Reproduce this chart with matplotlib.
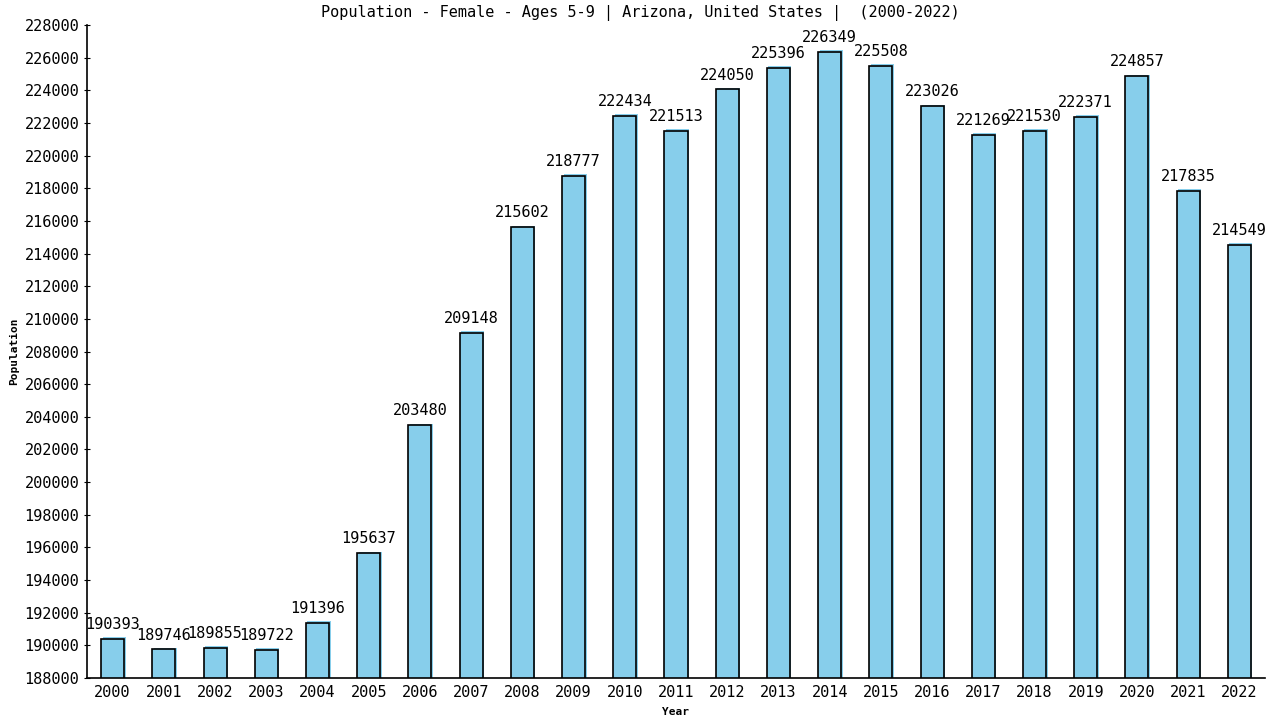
import matplotlib
matplotlib.use("Agg")
import matplotlib.pyplot as plt
import matplotlib.transforms as mtransforms

# ── Data ──────────────────────────────────────────────────────────────────────
years = [str(y) for y in range(2000, 2023)]
population = [190393, 189746, 189855, 189722, 191396, 195637, 203480, 209148,
              215602, 218777, 222434, 221513, 224050, 225396, 226349, 225508,
              223026, 221269, 221530, 222371, 224857, 217835, 214549]
y_ticks = list(range(188000, 228001, 2000))

plt.rcParams["font.family"] = ["DejaVu Sans Mono"]

fig = plt.figure(figsize=(12.8, 7.2), dpi=100)
ax = fig.add_axes([87 / 1280, 1 - 678 / 720, (1265 - 87) / 1280, (678 - 25) / 720])

x = list(range(len(years)))
# light blue "shadow" shifted a pixel up/right, then outlined bar on top
shadow = mtransforms.offset_copy(ax.transData, fig=fig, x=1.5, y=1.5, units="dots")
ax.bar(x, population, width=0.45, color="#87ceeb", linewidth=0, zorder=1, transform=shadow)
ax.bar(x, population, width=0.45, color="#87ceeb", edgecolor="black", linewidth=1.2, zorder=2)

for xi, v in zip(x, population):
    ax.annotate(str(v), (xi, v), xytext=(0, 5), textcoords="offset points",
                ha="center", va="bottom", fontsize=11, color="black")

ax.set_xlim(-0.5, len(years) - 0.5)
ax.set_ylim(188000, 228000)
ax.set_yticks(y_ticks)
ax.set_yticklabels([str(t) for t in y_ticks], fontsize=11)
ax.set_xticks(x)
ax.set_xticklabels(years, fontsize=11)
ax.tick_params(axis="x", length=0, pad=5)
ax.tick_params(axis="y", length=5, direction="inout", pad=3)

for s in ["top", "right"]:
    ax.spines[s].set_visible(False)
ax.spines["left"].set_linewidth(1.2)
ax.spines["bottom"].set_linewidth(1.2)

ax.set_xlabel("Year", fontsize=8, fontweight="bold", labelpad=5)
ax.set_ylabel("Population", fontsize=8, fontweight="bold", labelpad=4)
fig.text(0.5, 1 - 13 / 720, "Population - Female - Ages 5-9 | Arizona, United States |  (2000-2022)",
         ha="center", va="center", fontsize=11)

fig.savefig("out.png", dpi=100, facecolor="white")
